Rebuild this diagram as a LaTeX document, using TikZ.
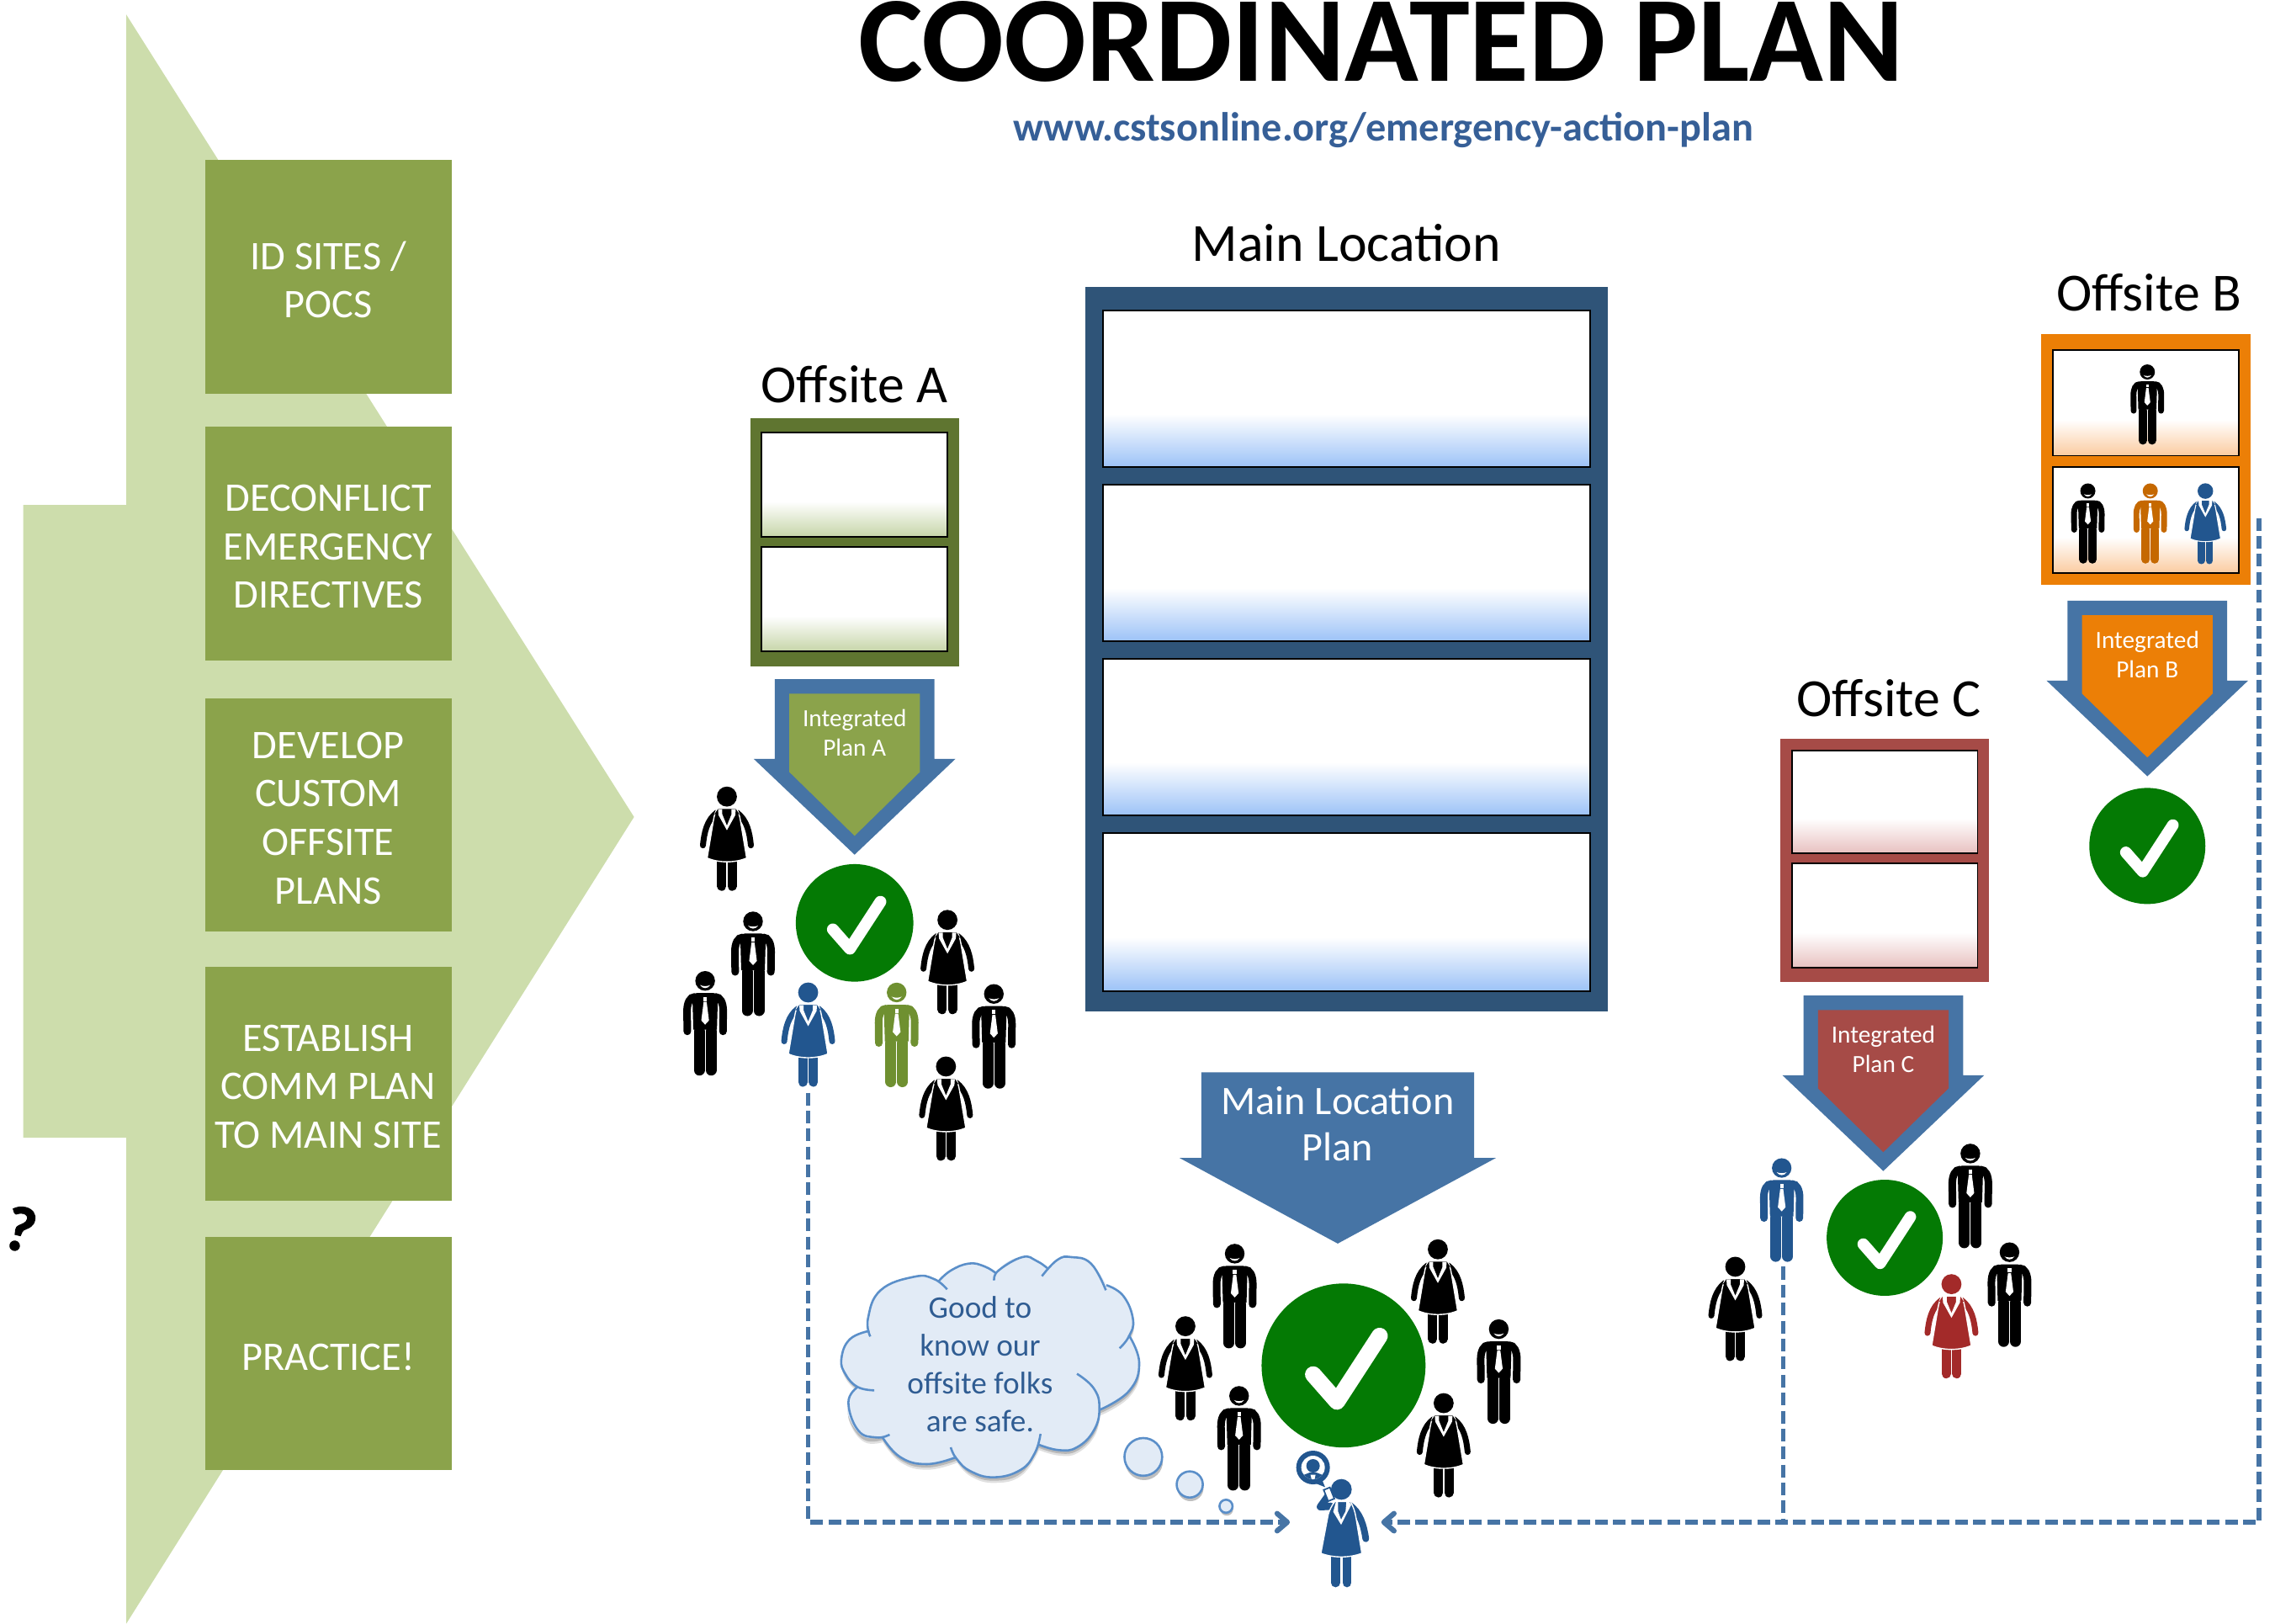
\documentclass[tikz,border=0pt]{standalone}
\usepackage{fontspec}
\setmainfont{Carlito}
\newfontfamily\qfont{Carlito}[BoldFeatures={FakeBold=1.5}]
\usetikzlibrary{arrows.meta}
\definecolor{lightgreen}{HTML}{CDDDAC}
\definecolor{stepgreen}{HTML}{8BA34B}
\definecolor{darkblue}{HTML}{2F5478}
\definecolor{midblue}{HTML}{4674A5}
\definecolor{urlblue}{HTML}{365F97}
\definecolor{textblue}{HTML}{2F5C92}
\definecolor{oliveframe}{HTML}{5F7530}
\definecolor{orangeframe}{HTML}{EC7F06}
\definecolor{redframe}{HTML}{A64B47}
\definecolor{checkgreen}{HTML}{047A04}
\definecolor{personblue}{HTML}{22568F}
\definecolor{persongreen}{HTML}{6F9030}
\definecolor{personorange}{HTML}{C56800}
\definecolor{personred}{HTML}{A32A29}
\definecolor{cloudfill}{HTML}{E2EBF6}
\definecolor{cloudline}{HTML}{5B8FC9}
\definecolor{flblue}{HTML}{9CC2F7}
\definecolor{flgreen}{HTML}{C6D5A8}
\definecolor{florange}{HTML}{FBCBA0}
\definecolor{flred}{HTML}{E8C1C0}
\pgfdeclareverticalshading{shadeblue}{100bp}{color(0bp)=(flblue);color(25bp)=(flblue);color(42bp)=(white);color(100bp)=(white)}
\pgfdeclareverticalshading{shadegreen}{100bp}{color(0bp)=(flgreen);color(25bp)=(flgreen);color(42bp)=(white);color(100bp)=(white)}
\pgfdeclareverticalshading{shadeorange}{100bp}{color(0bp)=(florange);color(25bp)=(florange);color(42bp)=(white);color(100bp)=(white)}
\pgfdeclareverticalshading{shadered}{100bp}{color(0bp)=(flred);color(25bp)=(flred);color(42bp)=(white);color(100bp)=(white)}
\tikzset{
  stepbox/.style={fill=stepgreen,minimum width=170pt,minimum height=161pt,inner sep=0pt,anchor=north west},
  steptext/.style={text=white,inner sep=0pt,align=center,yshift=-2pt,font=\fontsize{28}{33.4}\selectfont},
  sitelabel/.style={text=black,inner sep=0pt,anchor=base,font=\fontsize{37}{40}\selectfont},
  planlabel/.style={text=white,inner sep=0pt,align=center,font=\fontsize{17}{20}\selectfont},
  dashline/.style={draw=midblue,line width=3.2pt,dash pattern=on 8.7pt off 3.7pt},
  barb/.style={-{Straight Barb[length=7pt,width=12pt,line width=3.6pt,round]}},
  personbox/.style={inner sep=0pt,anchor=north}
}
\newcommand{\stepnode}[3]{%
  \node[stepbox] (#1) at (141,#2) {};
  \node[steptext] (#1t) at (#1.center) {#3};}
\newcommand{\manfig}[5]{%
  \node[personbox,minimum width=#3*52pt,minimum height=#3*124pt] (#5) at (#1,#2) {};
  \begin{scope}[shift={(#1,#2)},scale=#3]
    \fill[#4] (0,12) circle (11.7);
    \fill[white] (-6,17) .. controls (-3,21.8) and (3,21.8) .. (6,17) .. controls (3,18.6) and (-3,18.6) .. cycle;
    \draw[#4,line width=#3*13pt,line cap=round] (-7,72) -- (-7,118);
    \draw[#4,line width=#3*13pt,line cap=round] (7,72) -- (7,118);
    \draw[#4,line width=#3*9pt,line cap=round] (-21.2,72) -- (-21.5,48) .. controls (-21.5,38) and (-18,31) .. (-12,31);
    \draw[#4,line width=#3*9pt,line cap=round] (21.2,72) -- (21.5,48) .. controls (21.5,38) and (18,31) .. (12,31);
    \fill[#4] (-10,26.5) -- (10,26.5) .. controls (13,27) and (15,30) .. (15,36) -- (14,70) -- (-14,70) -- (-15,36) .. controls (-15,30) and (-13,27) .. (-10,26.5) -- cycle;
    \fill[white] (-2.2,31) -- (2.2,31) -- (2.2,36) -- (-2.2,36) -- cycle;
    \fill[white] (-1.8,37) -- (1.8,37) -- (4.6,59) -- (0,64) -- (-4.6,59) -- cycle;
  \end{scope}}
\newcommand{\womanfig}[5]{%
  \node[personbox,minimum width=#3*63pt,minimum height=#3*124pt] (#5) at (#1,#2) {};
  \begin{scope}[shift={(#1,#2)},scale=#3]
    \fill[#4] (0,12) circle (11.9);
    \draw[#4,line width=#3*11pt,line cap=round] (-6.2,85) -- (-6.2,118.5);
    \draw[#4,line width=#3*11pt,line cap=round] (6.2,85) -- (6.2,118.5);
    \draw[#4,line width=#3*7pt,line cap=round] (-28.5,70) .. controls (-27,55) and (-24,40) .. (-12,31);
    \draw[#4,line width=#3*7pt,line cap=round] (28.5,70) .. controls (27,55) and (24,40) .. (12,31);
    \filldraw[fill=#4,draw=white,line width=#3*1.4pt] (-11,26) -- (11,26) .. controls (13,28) and (15,34) .. (16,40) -- (23.5,85) .. controls (10,91) and (-10,91) .. (-23.5,85) -- (-16,40) .. controls (-15,34) and (-13,28) .. (-11,26) -- cycle;
    \fill[#4] (-11,27.5) -- (11,27.5) -- (15,33) -- (-15,33) -- cycle;
    \fill[white] (-10.5,27) -- (-10,34) -- (0,52) -- (10,34) -- (10.5,27) -- (5.5,27) -- (5.5,33) -- (0,46.5) -- (-5.5,33) -- (-5.5,27) -- cycle;
  \end{scope}}
\newcommand{\checkfig}[4]{%
  \node[circle,fill=checkgreen,inner sep=0pt,minimum size=#3*2pt] (#4) at (#1,#2) {};
  \begin{scope}[shift={(#1,#2)},scale=#3]
    \draw[white,line width=#3*.2pt,line cap=round,line join=round] (-.37,.11) -- (-.08,.44) -- (.44,-.36);
  \end{scope}}
\newcommand{\floorrect}[5]{\path[draw=black,line width=1.1pt,shading=#5] (#1,#2) rectangle (#3,#4);}
\newcommand{\planarrow}[3]{%
  \begin{scope}[shift={(#1,#2)}]
    \fill[midblue] (-55,0) -- (55,0) -- (55,55) -- (69.5,55) -- (0,121) -- (-69.5,55) -- (-55,55) -- cycle;
    \fill[#3] (-45,10) -- (45,10) -- (45,64) -- (0,108) -- (-45,64) -- cycle;
  \end{scope}}
\begin{document}
\begin{tikzpicture}[x=1pt,y=-1pt]
\useasboundingbox (0,0) rectangle (1568,1118.6);
% big light arrow
\fill[lightgreen] (87,10) -- (437,563) -- (87,1119) -- (87,784) -- (16,784) -- (16,348) -- (87,348) -- cycle;
% steps
\stepnode{s1}{110}{ID SITES /\\POCS}
\stepnode{s2}{294}{DECONFLICT\\EMERGENCY\\DIRECTIVES}
\stepnode{s3}{481}{DEVELOP\\CUSTOM\\OFFSITE\\PLANS}
\stepnode{s4}{666}{ESTABLISH\\COMM PLAN\\TO MAIN SITE}
\stepnode{s5}{852}{PRACTICE!}
\node[rotate=-14,inner sep=0pt,font=\qfont\bfseries\fontsize{44}{44}\selectfont] (qmark) at (14,847) {?};
% title
\node[inner sep=0pt,anchor=base,font=\bfseries\fontsize{84}{84}\selectfont] (title) at (952,56) {COORDINATED PLAN};
\node[inner sep=0pt,anchor=base,text=urlblue,font=\bfseries\fontsize{28}{28}\selectfont] (url) at (953.5,97) {www.cstsonline.org/emergency-action-plan};
% labels
\node[sitelabel] (lmain) at (928,180) {Main Location};
\node[sitelabel] (la) at (589,277.5) {Offsite A};
\node[sitelabel] (lb) at (1481,214.5) {Offsite B};
\node[sitelabel] (lc) at (1302,493.5) {Offsite C};
% main building
\fill[darkblue] (748,198) rectangle (1108,697);
\floorrect{760}{214}{1096}{322}{shadeblue}
\floorrect{760}{334}{1096}{442}{shadeblue}
\floorrect{760}{454}{1096}{562}{shadeblue}
\floorrect{760}{574}{1096}{683}{shadeblue}
% offsite A
\fill[oliveframe] (517,288) rectangle (661,459);
\floorrect{525}{298}{653}{370}{shadegreen}
\floorrect{525}{377}{653}{449}{shadegreen}
% offsite B
\fill[orangeframe] (1407,230) rectangle (1551,403);
\floorrect{1415}{241}{1543}{314}{shadeorange}
\floorrect{1415}{322}{1543}{395}{shadeorange}
% offsite C
\fill[redframe] (1227,509) rectangle (1371,677);
\floorrect{1235}{517}{1363}{588}{shadered}
\floorrect{1235}{595}{1363}{667}{shadered}
% plan arrows
\planarrow{589}{468}{stepgreen}
\planarrow{1480}{414}{orangeframe}
\planarrow{1298}{686}{redframe}
\node[planlabel] (pa) at (589,505) {Integrated\\Plan A};
\node[planlabel] (pb) at (1480,451) {Integrated\\Plan B};
\node[planlabel] (pc) at (1298,723) {Integrated\\Plan C};
\fill[midblue] (828,739) -- (1016,739) -- (1016,798) -- (1031,798) -- (922,857) -- (813,798) -- (828,798) -- cycle;
\node[text=white,inner sep=0pt,align=center,font=\fontsize{27.9}{32}\selectfont] (pmain) at (922,774.5) {Main Location\\Plan};
% checks
\checkfig{926}{941}{56.5}{cmain}
\checkfig{589}{636}{40.5}{ca}
\checkfig{1480}{583}{40}{cb}
\checkfig{1299}{853}{40}{cc}
% people
\manfig{519}{628}{.58}{black}{a2}
\manfig{486}{669}{.58}{black}{a3}
\womanfig{501}{542}{.58}{black}{a1}
\womanfig{557}{677}{.58}{personblue}{a4}
\manfig{618}{677}{.58}{persongreen}{a5}
\womanfig{653}{627}{.58}{black}{a6}
\manfig{685}{678}{.58}{black}{a7}
\womanfig{652}{728}{.58}{black}{a8}
\manfig{851}{857}{.58}{black}{m1}
\womanfig{991}{854}{.58}{black}{m2}
\womanfig{817}{907}{.58}{black}{m3}
\manfig{1033}{909}{.58}{black}{m4}
\manfig{854}{955}{.58}{black}{m5}
\womanfig{995}{960}{.58}{black}{m6}
\manfig{1228}{798}{.575}{personblue}{c1}
\manfig{1358}{788}{.58}{black}{c2}
\manfig{1385}{856}{.58}{black}{c3}
\womanfig{1345}{878}{.58}{personred}{c4}
\womanfig{1196}{866}{.58}{black}{c5}
\manfig{1480}{251}{.445}{black}{b1}
\manfig{1439}{333}{.445}{black}{b2}
\manfig{1482}{333}{.445}{personorange}{b3}
\womanfig{1520}{333}{.45}{personblue}{b4}
% phone woman
\node[inner sep=0pt,minimum width=36pt,minimum height=74pt] (phone) at (925,1057) {};
\begin{scope}[shift={(881.4,997.4)},scale=.1933]
  \fill[personblue] (122,72) circle (60);
  \fill[white] (122,72) circle (42);
  \begin{scope}
    \clip (122,72) circle (42);
    \fill[personblue] (122,66) circle (24);
    \fill[personblue] (72,125) -- (85,100) -- (110,90) -- (134,90) -- (160,100) -- (172,125) -- cycle;
    \fill[white] (113,98) -- (131,98) -- (126,120) -- (118,120) -- cycle;
  \end{scope}
  \fill[personblue] (130,128) -- (165,142) -- (155,118) -- cycle;
  \draw[personblue,line width=5pt,line cap=round,line join=round] (186,210) -- (148,212) -- (178,170);
  \filldraw[fill=white,draw=personblue,line width=1pt] (160,152) -- (182,143) -- (198,183) -- (176,192) -- cycle;
  \fill[personblue] (223,150) circle (37);
  \draw[personblue,line width=6.2pt,line cap=round] (202,385) -- (202,483);
  \draw[personblue,line width=6.2pt,line cap=round] (243,385) -- (243,483);
  \draw[personblue,line width=4.6pt,line cap=round] (310,326) .. controls (303,280) and (290,230) .. (250,205);
  \filldraw[fill=personblue,draw=white,line width=.8pt] (200,193) -- (255,193) .. controls (265,210) and (272,230) .. (275,250) -- (296,378) .. controls (250,395) and (195,395) .. (150,378) -- (176,240) .. controls (180,225) and (190,205) .. (200,193) -- cycle;
  \fill[white] (204,193) -- (194,230) -- (222,276) -- (258,205) -- (250,193) -- (241,193) -- (238,228) -- (222,258) -- (211,228) -- (211,193) -- cycle;
\end{scope}
% connectors
\coordinate (startA) at (557,753);
\coordinate (cornerA) at (557,1049);
\coordinate (endL) at (889,1049);
\coordinate (startB) at (1557,357);
\coordinate (cornerB) at (1557,1049);
\coordinate (endR) at (952,1049);
\coordinate (startC) at (1229,873);
\coordinate (jointC) at (1229,1049);
\draw[dashline,barb] (startA) -- (cornerA) -- (endL);
\draw[dashline,barb] (startB) -- (cornerB) -- (endR);
\draw[dashline] (startC) -- (jointC);
% cloud
\newcommand{\cloudoutline}{
  (160,335) -- plot[smooth,tension=.75] coordinates {(160,335)(158,270)(200,190)(320,142)(405,160)}
  -- plot[smooth,tension=.75] coordinates {(405,160)(450,120)(515,95)(570,105)(612,130)}
  -- plot[smooth,tension=.75] coordinates {(612,130)(650,90)(705,72)(755,85)(795,112)}
  -- plot[smooth,tension=.75] coordinates {(795,112)(830,82)(880,72)(950,95)(1005,172)}
  -- plot[smooth,tension=.75] coordinates {(1005,172)(1065,210)(1100,295)(1085,350)}
  -- plot[smooth,tension=.75] coordinates {(1085,350)(1122,450)(1085,550)(980,617)}
  -- plot[smooth,tension=.75] coordinates {(980,617)(960,690)(900,750)(835,760)(762,740)}
  -- plot[smooth,tension=.75] coordinates {(762,740)(700,830)(605,857)(520,835)(470,785)}
  -- plot[smooth,tension=.75] coordinates {(470,785)(365,810)(270,785)(205,712)}
  -- plot[smooth,tension=.75] coordinates {(205,712)(140,712)(90,650)(85,590)(118,535)}
  -- plot[smooth,tension=.75] coordinates {(118,535)(75,490)(60,435)(90,365)(160,335)} -- cycle}
\begin{scope}[shift={(568.3,852.4)},scale=.1933]
  \fill[black!12,shift={(3,20)}] \cloudoutline;
  \fill[black!28,shift={(2,12)}] \cloudoutline;
  \fill[cloudfill] \cloudoutline;
  \begin{scope}[draw=cloudline,line width=1.5pt]
  \draw plot[smooth,tension=.75] coordinates {(163,355)(155,290)(200,190)(320,142)(390,150)(437,187)};
  \draw plot[smooth,tension=.75] coordinates {(405,160)(450,120)(515,95)(570,105)(612,130)};
  \draw plot[smooth,tension=.75] coordinates {(605,155)(620,120)(705,72)(755,85)(795,112)};
  \draw plot[smooth,tension=.75] coordinates {(775,140)(830,82)(880,72)(950,95)(1003,190)};
  \draw plot[smooth,tension=.75] coordinates {(1005,172)(1065,210)(1100,295)(1085,355)(1052,397)};
  \draw plot[smooth,tension=.75] coordinates {(1085,350)(1122,450)(1085,550)(980,617)};
  \draw plot[smooth,tension=.75] coordinates {(900,488)(960,540)(980,610)(960,690)(900,750)(835,760)(762,740)};
  \draw plot[smooth,tension=.75] coordinates {(770,702)(750,770)(700,830)(605,857)(520,835)(470,790)(450,750)};
  \draw plot[smooth,tension=.75] coordinates {(470,785)(365,810)(270,785)(205,712)};
  \draw plot[smooth,tension=.75] coordinates {(232,705)(185,715)(120,690)(85,590)(118,535)};
  \draw plot[smooth,tension=.75] coordinates {(177,547)(118,535)(75,490)(60,435)(90,365)(160,335)};
  \end{scope}
\end{scope}
\node[text=textblue,inner sep=0pt,align=center,font=\fontsize{21.6}{26}\selectfont] (cloudtext) at (675.5,940) {Good to\\know our\\offsite folks\\are safe.};
% thought bubbles
\fill[black!25] (788.5,1007) circle (13);
\fill[black!25] (820.5,1025.5) circle (9);
\fill[black!25] (845.5,1040) circle (4.5);
\filldraw[fill=cloudfill,draw=cloudline,line width=1.5pt] (788,1004) circle (13) (820,1023) circle (9) (845,1038) circle (4.5);
\end{tikzpicture}
\end{document}
